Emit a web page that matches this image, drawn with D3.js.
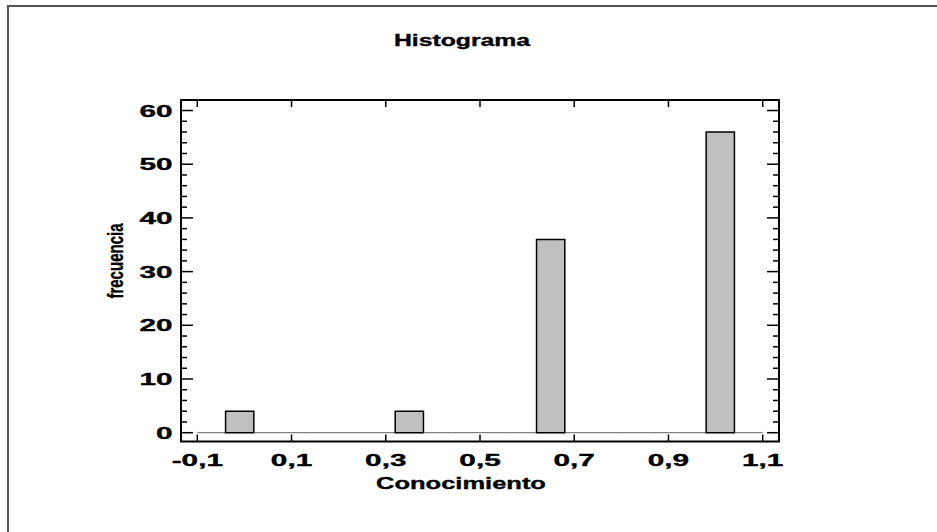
<!DOCTYPE html>
<html>
<head>
<meta charset="utf-8">
<script src="https://cdn.jsdelivr.net/npm/d3@7"></script>
<style>
  html, body { margin: 0; padding: 0; background: #fff; }
  svg { display: block; }
  text { font-family: "Liberation Sans", Arial, sans-serif; font-weight: bold; fill: #000; stroke: #000; stroke-width: 0.35px; }
</style>
</head>
<body>
<div id="chart"></div>
<script>
// Histogram data: 20 bins of width 0.06 starting at -0.1
const binStart = -0.1;
const binWidth = 0.06;
const counts = [0, 4, 0, 0, 0, 0, 0, 4, 0, 0, 0, 0, 36, 0, 0, 0, 0, 0, 56, 0];

const xTicks = [-0.1, 0.1, 0.3, 0.5, 0.7, 0.9, 1.1];
const yTicks = [0, 10, 20, 30, 40, 50, 60];
const yMinor = d3.range(0, 63, 2);

const title = 'Histograma';
const xLabel = 'Conocimiento';
const yLabel = 'frecuencia';

// Setup dimensions
const width = 937;
const height = 532;
const plot = { left: 181, right: 779, top: 100, bottom: 441.5 };

const svg = d3.select('#chart')
  .append('svg')
  .attr('width', width)
  .attr('height', height);

// outer frame (only top/left visible)
svg.append('rect')
  .attr('x', 8).attr('y', 6)
  .attr('width', width + 20).attr('height', height + 20)
  .attr('fill', 'none')
  .attr('stroke', '#555')
  .attr('stroke-width', 2);

const x = d3.scaleLinear()
  .domain([-0.1346, 1.1346])
  .range([plot.left, plot.right]);

const y = d3.scaleLinear()
  .domain([-1.64, 61.96])
  .range([plot.bottom, plot.top]);

const fmt = v => d3.format('.1f')(v).replace('.', ',').replace('−', '-');

// bins (empty bins become a line along zero)
const bins = counts.map((c, i) => ({
  x0: binStart + i * binWidth,
  x1: binStart + (i + 1) * binWidth,
  count: c
}));

svg.append('g')
  .selectAll('path')
  .data(bins)
  .enter()
  .append('path')
  .attr('d', d => `M${x(d.x0)},${y(0)}V${y(d.count)}H${x(d.x1)}V${y(0)}` + (d.count > 0 ? 'Z' : ''))
  .attr('fill', d => d.count > 0 ? '#c0c0c0' : 'none')
  .attr('stroke', d => d.count > 0 ? '#000' : '#666')
  .attr('stroke-width', d => d.count > 0 ? 1.5 : 1);

// axis frame
svg.append('rect')
  .attr('x', plot.left).attr('y', plot.top)
  .attr('width', plot.right - plot.left)
  .attr('height', plot.bottom - plot.top)
  .attr('fill', 'none')
  .attr('stroke', '#000')
  .attr('stroke-width', 2);

// y ticks on both sides, pointing inward
const ticks = svg.append('g').attr('stroke', '#000').attr('stroke-width', 1.5);
yMinor.forEach(v => {
  const len = v % 10 === 0 ? 12 : 6;
  ticks.append('line')
    .attr('x1', plot.left).attr('x2', plot.left + len)
    .attr('y1', y(v)).attr('y2', y(v));
  ticks.append('line')
    .attr('x1', plot.right).attr('x2', plot.right - len)
    .attr('y1', y(v)).attr('y2', y(v));
});
// x ticks top and bottom
xTicks.forEach(v => {
  ticks.append('line')
    .attr('x1', x(v)).attr('x2', x(v))
    .attr('y1', plot.bottom).attr('y2', plot.bottom - 7);
  ticks.append('line')
    .attr('x1', x(v)).attr('x2', x(v))
    .attr('y1', plot.top).attr('y2', plot.top + 7);
});

// stretched text helper
function label(px, py, txt, size, sx, anchor, rot) {
  const g = svg.append('g')
    .attr('transform', `translate(${px},${py})` + (rot ? ` rotate(${rot})` : '') + ` scale(${sx},1)`);
  g.append('text')
    .attr('text-anchor', anchor)
    .style('font-size', size + 'px')
    .text(txt);
}

xTicks.forEach(v => label(x(v), 465.5, fmt(v), 17, 1.75, 'middle'));
yTicks.forEach(v => label(172.5, y(v) + 6, v, 17, 1.75, 'end'));

label(462, 46, title, 16.5, 1.5, 'middle');
label(461, 489, xLabel, 17, 1.5, 'middle');
label(123, 261, yLabel, 21.5, 0.7, 'middle', -90);
</script>
</body>
</html>
